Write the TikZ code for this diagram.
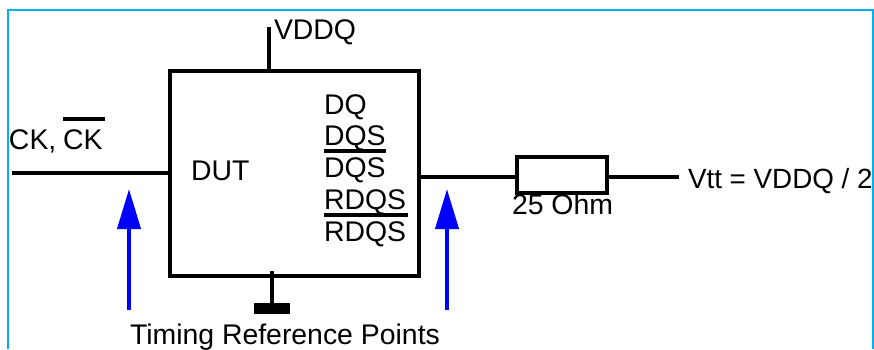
\documentclass[tikz,border=0pt]{standalone}
\usepackage{fontspec}
\setmainfont{Liberation Sans}
\usetikzlibrary{arrows.meta,positioning}
\definecolor{DUTFrame}{HTML}{00B0F0}
\definecolor{DUTBlue}{HTML}{0000FF}

\begin{document}
\begin{tikzpicture}[
      x=1pt,y=-1pt,
      wire/.style={line width=4pt,draw=black},
      refarrow/.style={-{Triangle[length=40pt,width=23pt,sep=2pt]},line width=4pt,draw=DUTBlue},
      device/.style={draw=black,line width=4pt,outer sep=0pt,inner sep=0pt},
      pinlabel/.style={anchor=base west,inner sep=0pt,outer sep=0pt,font=\fontsize{28.4}{31}\selectfont}
    ]
    \useasboundingbox (0,0) rectangle (874,349);
    \draw[line width=2pt,draw=DUTFrame] (8,349) -- (8,10) -- (873,10) -- (873,349);

    \node[device,minimum width=249pt,minimum height=205pt] (dut) at (294.5,173.5) {};
    \node[device,minimum width=90pt,minimum height=36pt] (rterm) at (562,175) {};
    \node[fill=black,inner sep=0pt,outer sep=0pt,minimum width=36pt,minimum height=11pt] (gndbar) at (272,308.5) {};

    \coordinate (vddqend) at (269,27);
    \coordinate (ckend) at (12,173);
    \coordinate (gndend) at (272,271);
    \coordinate (vttend) at (679,177);
    \coordinate (refatail) at (129,310);
    \coordinate (refatip) at (129,187);
    \coordinate (refbtail) at (447,310);
    \coordinate (refbtip) at (447,187);

    \draw[wire] (vddqend) -- (vddqend |- dut.north);
    \draw[wire] (ckend) -- (ckend -| dut.west);
    \draw[wire] (gndend) -- (gndbar.north);
    \draw[wire] (vttend -| dut.east) -- (vttend -| rterm.west);
    \draw[wire] (vttend -| rterm.east) -- (vttend);
    \draw[refarrow] (refatail) -- (refatip);
    \draw[refarrow] (refbtail) -- (refbtip);

    \node[pinlabel] (vddq) at (274,39) {VDDQ};
    \node[pinlabel] (ck) at (9,149) {CK,};
    \node[pinlabel] (ckbar) at (63,149) {CK};
    \node[pinlabel] (dutname) at (191,180) {DUT};
    \node[pinlabel] (dq) at (324,114) {DQ};
    \node[pinlabel] (dqs) at (324,145) {DQS};
    \node[pinlabel] (dqsbar) at (324,177) {DQS};
    \node[pinlabel] (rdqs) at (324,209) {RDQS};
    \node[pinlabel] (rdqsbar) at (324,241) {RDQS};
    \node[pinlabel] (rohm) at (512,214) {25 Ohm};
    \node[pinlabel,font=\fontsize{27.8}{31}\selectfont] (vtt) at (688,188) {Vtt = VDDQ / 2};
    \node[pinlabel] (timing) at (130,344) {Timing Reference Points};

    % bars over the inverted signals
    \draw[wire] (63,119) -- (105,119);
    \draw[wire] (324,151) -- (386,151);
    \draw[wire] (324,215) -- (408,215);
  \end{tikzpicture}
\end{document}
